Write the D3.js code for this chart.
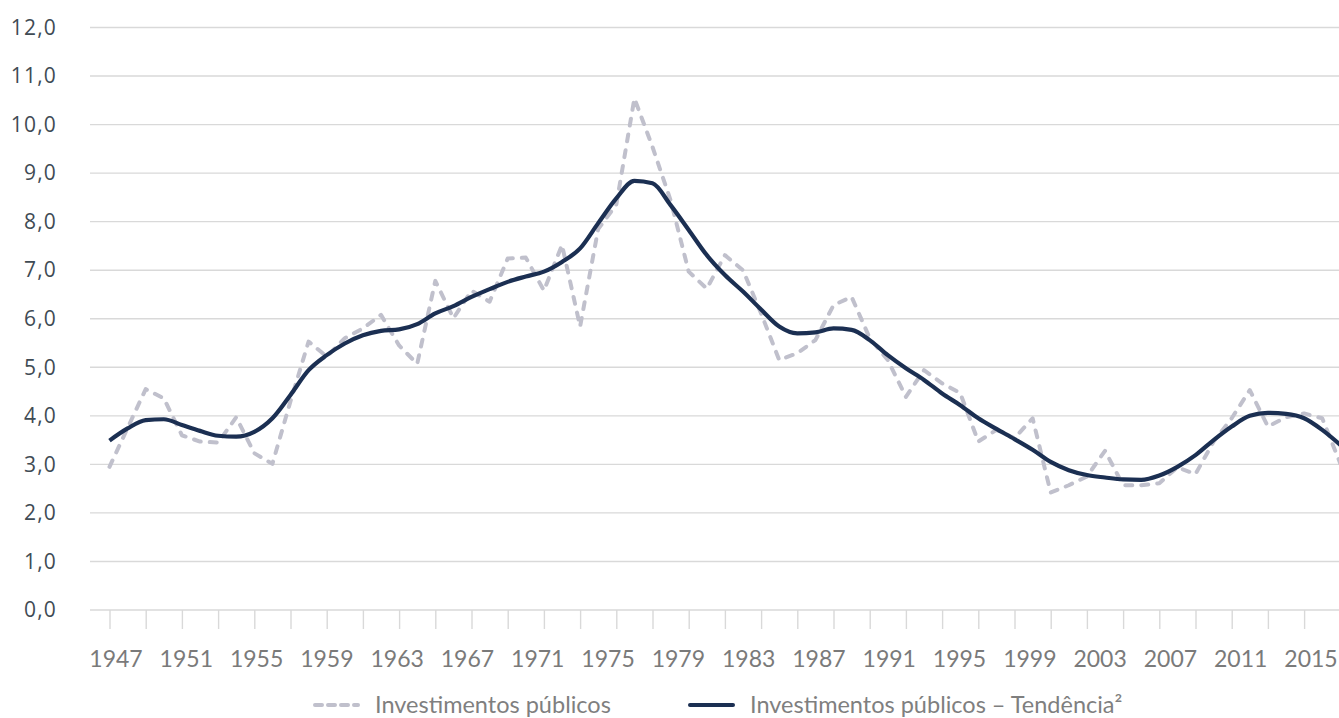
<!DOCTYPE html>
<html>
<head>
<meta charset="utf-8">
<script src="https://cdnjs.cloudflare.com/ajax/libs/d3/7.8.5/d3.min.js"></script>
<style>
  body { margin: 0; background: #fff; }
  #chart text { font-family: Lato, "Open Sans", sans-serif; }
</style>
</head>
<body>
<div id="chart"></div>
<script>
// years shown on the category axis (one value per year)
var years = d3.range(1947, 2016);

// labels written under the axis (every 4 years)
var labelYears = [1947, 1951, 1955, 1959, 1963, 1967, 1971, 1975, 1979,
  1983, 1987, 1991, 1995, 1999, 2003, 2007, 2011, 2015];

// y tick values
var yTicks = [0, 1, 2, 3, 4, 5, 6, 7, 8, 9, 10, 11, 12];

// Investimentos públicos (dashed), 1947-2015
var investimentos = [
  2.95, 3.75, 4.55, 4.36, 3.60, 3.47, 3.45, 3.97, 3.23, 3.01,   // 1947-1956
  4.30, 5.53, 5.22, 5.60, 5.80, 6.08, 5.45, 5.07, 6.78, 6.01,   // 1957-1966
  6.58, 6.35, 7.24, 7.26, 6.58, 7.52, 5.84, 7.85, 8.35, 10.54,  // 1967-1976
  9.54, 8.44, 6.97, 6.62, 7.31, 7.00, 6.11, 5.15, 5.29, 5.56,   // 1977-1986
  6.28, 6.45, 5.60, 5.15, 4.39, 4.94, 4.67, 4.47, 3.47, 3.71,   // 1987-1996
  3.54, 3.95, 2.42, 2.57, 2.75, 3.28, 2.57, 2.57, 2.61, 2.94,   // 1997-2006
  2.80, 3.47, 3.95, 4.53, 3.78, 3.97, 4.05, 3.95, 3.02          // 2007-2015
];

// Investimentos públicos – Tendência (solid), 1947-2015
var tendencia = [
  3.49, 3.74, 3.91, 3.93, 3.81, 3.69, 3.59, 3.57, 3.67, 3.95,   // 1947-1956
  4.43, 4.94, 5.25, 5.49, 5.66, 5.75, 5.78, 5.89, 6.11, 6.26,   // 1957-1966
  6.45, 6.61, 6.76, 6.87, 6.97, 7.17, 7.45, 7.97, 8.48, 8.84,   // 1967-1976
  8.79, 8.34, 7.83, 7.31, 6.90, 6.56, 6.19, 5.84, 5.70, 5.72,   // 1977-1986
  5.80, 5.77, 5.56, 5.25, 4.98, 4.74, 4.46, 4.22, 3.95, 3.73,   // 1987-1996
  3.52, 3.30, 3.05, 2.88, 2.78, 2.73, 2.69, 2.68, 2.77, 2.95,   // 1997-2006
  3.19, 3.50, 3.78, 4.00, 4.06, 4.04, 3.95, 3.71, 3.40          // 2007-2015
];

var seriesNames = ["Investimentos públicos", "Investimentos públicos – Tendência²"];

function init() {
  var width = 1339,
    height = 718;

  var svg = d3
    .select("#chart")
    .append("svg")
    .attr("width", width)
    .attr("height", height);

  // scales
  var x = d3.scaleLinear().domain([1947, 2015]).range([109.5, 1340.3]);
  var xLabel = d3.scaleLinear().domain([1947, 2015]).range([115.5, 1310.5]);
  var y = d3.scaleLinear().domain([0, 12]).range([610, 27.5]);

  // horizontal gridlines
  svg
    .append("g")
    .selectAll("line")
    .data(yTicks)
    .enter()
    .append("line")
    .attr("x1", 90)
    .attr("x2", width)
    .attr("y1", function (d) { return y(d); })
    .attr("y2", function (d) { return y(d); })
    .attr("stroke", "#d9d9d9")
    .attr("stroke-width", 1.4);

  // y axis labels
  var yAxis = svg
    .append("g")
    .attr("transform", "translate(57,0)")
    .call(
      d3.axisLeft(y)
        .tickValues(yTicks)
        .tickSize(0)
        .tickPadding(0)
        .tickFormat(function (d) { return d3.format(".1f")(d).replace(".", ","); })
    );
  yAxis.select(".domain").remove();
  yAxis
    .selectAll("text")
    .style("font-family", "'Open Sans', sans-serif")
    .style("font-size", "21px")
    .style("letter-spacing", "1.2px")
    .attr("fill", "#3f4b54");

  // x tick marks (every 2 years)
  var tickAxis = svg
    .append("g")
    .attr("transform", "translate(0,610)")
    .call(
      d3.axisBottom(x)
        .tickValues(years.filter(function (d) { return (d - 1947) % 2 === 0; }))
        .tickSize(19)
        .tickFormat("")
    );
  tickAxis.select(".domain").remove();
  tickAxis.selectAll("line").attr("stroke", "#d9d9d9").attr("stroke-width", 1.4);

  // x labels
  var labelAxis = svg
    .append("g")
    .attr("transform", "translate(0,610)")
    .call(d3.axisBottom(xLabel).tickValues(labelYears).tickSize(0).tickPadding(41).tickFormat(d3.format("d")));
  labelAxis.select(".domain").remove();
  labelAxis
    .selectAll("text")
    .style("font-family", "Lato, sans-serif")
    .style("font-size", "23px")
    .attr("fill", "#7a7a7a");

  // lines
  var dashedLine = d3
    .line()
    .x(function (d, i) { return x(years[i]); })
    .y(function (d) { return y(d); });

  var smoothLine = d3
    .line()
    .curve(d3.curveMonotoneX)
    .x(function (d, i) { return x(years[i]); })
    .y(function (d) { return y(d); });

  svg
    .append("path")
    .datum(investimentos)
    .attr("d", dashedLine)
    .attr("fill", "none")
    .attr("stroke", "#c0c0cc")
    .attr("stroke-width", 4)
    .attr("stroke-dasharray", "7,9")
    .attr("stroke-linecap", "round")
    .attr("stroke-linejoin", "round");

  svg
    .append("path")
    .datum(tendencia)
    .attr("d", smoothLine)
    .attr("fill", "none")
    .attr("stroke", "#1b2f52")
    .attr("stroke-width", 4.2)
    .attr("stroke-linejoin", "round");

  // legend
  var legend = [
    { name: seriesNames[0], color: "#c0c0cc", dash: "7,6", x: 313 },
    { name: seriesNames[1], color: "#1b2f52", dash: null, x: 688 }
  ];

  var items = svg
    .append("g")
    .selectAll("g")
    .data(legend)
    .enter()
    .append("g")
    .attr("transform", function (d) { return "translate(" + d.x + ",705)"; });

  items
    .append("line")
    .attr("x1", 2)
    .attr("x2", 45)
    .attr("stroke", function (d) { return d.color; })
    .attr("stroke-width", 4)
    .attr("stroke-dasharray", function (d) { return d.dash; })
    .attr("stroke-linecap", "round");

  items
    .append("text")
    .attr("x", function (d, i) { return i === 0 ? 62 : 62; })
    .attr("dy", "0.35em")
    .style("font-size", "23.5px")
    .attr("fill", "#7f7f7f")
    .text(function (d) { return d.name; });
}
window.onload = init;
</script>
</body>
</html>
